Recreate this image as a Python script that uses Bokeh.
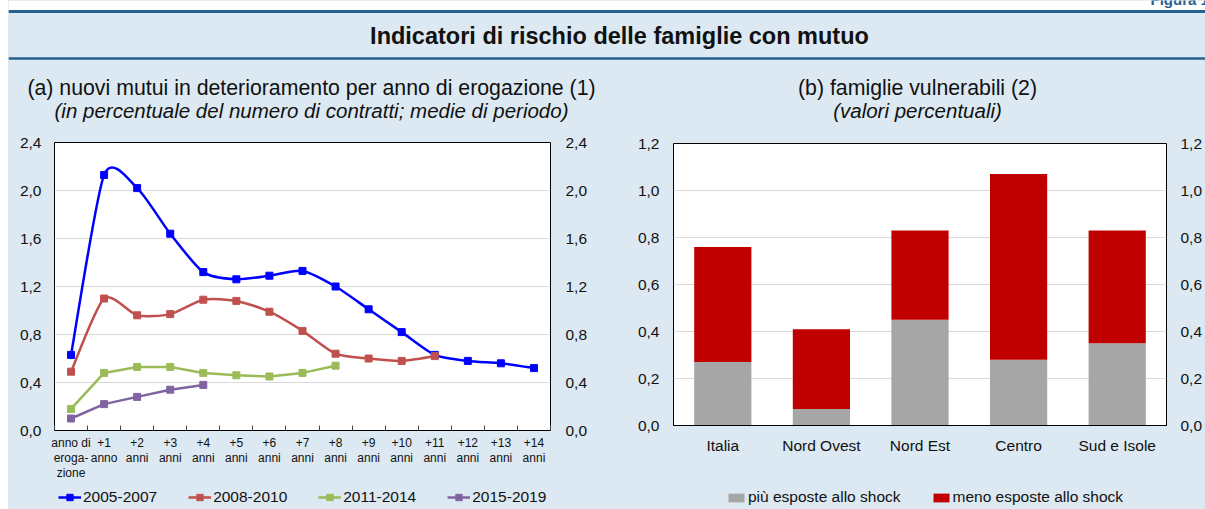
from bokeh.plotting import figure
from bokeh.models import (Range1d, FactorRange, LinearAxis, CategoricalAxis, FixedTicker,
                          CustomJSTickFormatter, Span, Label, Legend, LegendItem,
                          ColumnDataSource, BoxAnnotation, Spacer)
from bokeh.layouts import column, row
from bokeh.embed import file_html
from bokeh.resources import INLINE

# ---------------- data ----------------
FIG_TAG = "Figura 1"
TITLE = "Indicatori di rischio delle famiglie con mutuo"
SUB_A = "(a) nuovi mutui in deterioramento per anno di erogazione (1)"
SUB_A2 = "(in percentuale del numero di contratti; medie di periodo)"
SUB_B = "(b) famiglie vulnerabili (2)"
SUB_B2 = "(valori percentuali)"

YEAR_LABELS = ["anno di\neroga-\nzione", "+1\nanno", "+2\nanni", "+3\nanni", "+4\nanni",
               "+5\nanni", "+6\nanni", "+7\nanni", "+8\nanni", "+9\nanni", "+10\nanni",
               "+11\nanni", "+12\nanni", "+13\nanni", "+14\nanni"]
SERIES_NAMES = ["2005-2007", "2008-2010", "2011-2014", "2015-2019"]
S_2005_2007 = [0.63, 2.13, 2.02, 1.64, 1.32, 1.26, 1.29, 1.33, 1.20, 1.01, 0.82, 0.63, 0.58, 0.56, 0.52]
S_2008_2010 = [0.49, 1.10, 0.96, 0.97, 1.09, 1.08, 0.99, 0.83, 0.64, 0.60, 0.58, 0.62]
S_2011_2014 = [0.18, 0.48, 0.53, 0.53, 0.48, 0.46, 0.45, 0.48, 0.54]
S_2015_2019 = [0.10, 0.22, 0.28, 0.34, 0.38]
Y_TICKS_A = [0.0, 0.4, 0.8, 1.2, 1.6, 2.0, 2.4]

REGIONS = ["Italia", "Nord Ovest", "Nord Est", "Centro", "Sud e Isole"]
PIU_ESPOSTE = [0.27, 0.07, 0.45, 0.28, 0.35]
MENO_ESPOSTE = [0.49, 0.34, 0.38, 0.79, 0.48]
BAR_LEGEND = ["più esposte allo shock", "meno esposte allo shock"]
Y_TICKS_B = [0.0, 0.2, 0.4, 0.6, 0.8, 1.0, 1.2]

# ---------------- style ----------------
BG = "#dce9f2"
DARK = "#25608e"
FONT = "Liberation Sans"
TXT = "#111111"
LINE_COLORS = ["#0000ff", "#c0504d", "#9bbb59", "#8064a2"]
SMOOTH = [True, True, False, False]
BAR_COLORS = ["#a6a6a6", "#c00000"]
TICK_FS = "15.5px"
GRID = "#d9d9d9"
BGSTYLE = {"background-color": BG}

comma_fmt = CustomJSTickFormatter(code="return tick.toFixed(1).replace('.', ',');")


def style_fig(p):
    p.background_fill_color = "white"
    p.border_fill_color = BG
    p.outline_line_color = "black"
    p.outline_line_width = 1


def blank_fig(w, h, xr=(0, 1), yr=(0, 1)):
    f = figure(width=w, height=h, x_range=Range1d(*xr), y_range=Range1d(*yr),
               output_backend="svg", toolbar_location=None, min_border=0,
               x_axis_location=None, y_axis_location=None)
    f.grid.visible = False
    f.outline_line_color = None
    f.background_fill_color = BG
    f.border_fill_color = BG
    return f


def bezier_source(xs, ys, k=0.12):
    n = len(xs)
    d = dict(x0=[], y0=[], x1=[], y1=[], cx0=[], cy0=[], cx1=[], cy1=[])
    for i in range(n - 1):
        xp, yp = (xs[i - 1], ys[i - 1]) if i > 0 else (xs[i], ys[i])
        xn, yn = (xs[i + 2], ys[i + 2]) if i + 2 < n else (xs[i + 1], ys[i + 1])
        d["x0"].append(xs[i]); d["y0"].append(ys[i])
        d["x1"].append(xs[i + 1]); d["y1"].append(ys[i + 1])
        d["cx0"].append(xs[i] + k * (xs[i + 1] - xp)); d["cy0"].append(ys[i] + k * (ys[i + 1] - yp))
        d["cx1"].append(xs[i + 1] - k * (xn - xs[i])); d["cy1"].append(ys[i + 1] - k * (yn - ys[i]))
    return ColumnDataSource(d)


def y_axis(ticks, stand):
    ya = LinearAxis(ticker=FixedTicker(ticks=ticks), formatter=comma_fmt)
    ya.major_tick_line_color = None
    ya.minor_tick_line_color = None
    ya.major_tick_out = 0
    ya.major_tick_in = 0
    ya.axis_line_color = None
    ya.major_label_standoff = stand
    ya.major_label_text_font = FONT
    ya.major_label_text_font_size = TICK_FS
    ya.major_label_text_color = TXT
    return ya


def make_legend(items, x, glyph_w, glyph_h, spacing):
    return Legend(items=items, orientation="horizontal", location=(x, 3),
                  glyph_width=glyph_w, glyph_height=glyph_h, label_standoff=2, spacing=spacing,
                  label_height=0, padding=0, margin=0, border_line_color=None,
                  background_fill_alpha=0, label_text_font=FONT, label_text_font_size=TICK_FS,
                  label_text_color=TXT)


# ---------------- header ----------------
HW, HH = 1197, 128
hdr = blank_fig(HW, HH, (0, HW), (HH, 0))
hdr.add_layout(BoxAnnotation(top=0, bottom=9.5, fill_color="white", fill_alpha=1, line_color=None))
hdr.add_layout(Span(location=11, dimension="width", line_color=DARK, line_width=3))
hdr.add_layout(Span(location=58, dimension="width", line_color=DARK, line_width=2.5))
hdr.add_layout(Label(x=1142, y=7, text=FIG_TAG, text_align="left", text_baseline="bottom",
                     text_font=FONT, text_font_style="bold", text_font_size="15px",
                     text_color=DARK))
hdr.add_layout(Label(x=611, y=35, text=TITLE, text_align="center", text_baseline="middle",
                     text_font=FONT, text_font_style="bold", text_font_size="23.5px",
                     text_color=TXT))
hdr.add_layout(Label(x=303, y=87, text=SUB_A, text_align="center", text_baseline="middle",
                     text_font=FONT, text_font_size="21.3px", text_color=TXT))
hdr.add_layout(Label(x=303, y=110, text=SUB_A2, text_align="center", text_baseline="middle",
                     text_font=FONT, text_font_style="italic", text_font_size="20.5px",
                     text_color=TXT))
hdr.add_layout(Label(x=909, y=87, text=SUB_B, text_align="center", text_baseline="middle",
                     text_font=FONT, text_font_size="21.3px", text_color=TXT))
hdr.add_layout(Label(x=909, y=110, text=SUB_B2, text_align="center", text_baseline="middle",
                     text_font=FONT, text_font_style="italic", text_font_size="20.5px",
                     text_color=TXT))

BODY = 509 - HH
CH_A = 14 + 288 + 59      # panel (a) figure height
CH_B = 15 + 282 + 62      # panel (b) figure height

# ---------------- panel (a) ----------------
pa = figure(width=592, height=CH_A, x_range=Range1d(-0.5, len(YEAR_LABELS) - 0.5),
            y_range=Range1d(0, 2.4), output_backend="svg", toolbar_location=None,
            x_axis_location=None, y_axis_location=None,
            min_border_left=46, min_border_right=50, min_border_top=14, min_border_bottom=59)
style_fig(pa)

xa = LinearAxis(ticker=FixedTicker(ticks=list(range(len(YEAR_LABELS))),
                                   minor_ticks=[i - 0.5 for i in range(len(YEAR_LABELS) + 1)]),
                major_label_overrides={i: lab for i, lab in enumerate(YEAR_LABELS)})
xa.major_tick_line_color = None
xa.major_tick_out = 0
xa.major_tick_in = 0
xa.minor_tick_in = 5
xa.minor_tick_out = 0
xa.minor_tick_line_color = "#444444"
xa.axis_line_color = "black"
xa.major_label_standoff = 5
xa.major_label_text_font = FONT
xa.major_label_text_font_size = "12px"
xa.major_label_text_line_height = 1.1
xa.major_label_text_color = TXT
pa.add_layout(xa, "below")

pa.add_layout(y_axis(Y_TICKS_A, 13), "left")
pa.add_layout(y_axis(Y_TICKS_A, 15), "right")

pa.ygrid.ticker = FixedTicker(ticks=Y_TICKS_A)
pa.ygrid.grid_line_color = GRID
pa.xgrid.grid_line_color = None

# legend strip for panel (a): legend-key glyphs sit outside the strip's visible range
la = blank_fig(592, BODY - CH_A)
items_a = []
for name, vals, col, sm in zip(SERIES_NAMES, [S_2005_2007, S_2008_2010, S_2011_2014, S_2015_2019],
                               LINE_COLORS, SMOOTH):
    xs = list(range(len(vals)))
    if sm:
        pa.bezier(x0="x0", y0="y0", x1="x1", y1="y1", cx0="cx0", cy0="cy0", cx1="cx1",
                  cy1="cy1", source=bezier_source(xs, vals), line_color=col,
                  line_width=2.5, line_cap="round")
    else:
        pa.line(xs, vals, line_color=col, line_width=2.5, line_join="round")
    pa.scatter(xs, vals, marker="square", size=7, fill_color=col, line_color=col)
    kl = la.line(x=[-5, -4], y=[-5, -5], line_color=col, line_width=2.5)
    ks = la.scatter(x=[-5], y=[-5], marker="square", size=7, fill_color=col, line_color=col)
    items_a.append(LegendItem(label=name, renderers=[kl, ks]))
la.add_layout(make_legend(items_a, 4, 23, 16, 31), "center")

# ---------------- panel (b) ----------------
pb = figure(width=605, height=CH_B, x_range=FactorRange(*REGIONS), y_range=Range1d(0, 1.2),
            output_backend="svg", toolbar_location=None,
            x_axis_location=None, y_axis_location=None,
            min_border_left=73, min_border_right=36, min_border_top=15, min_border_bottom=62)
style_fig(pb)

src_b = ColumnDataSource(dict(region=REGIONS, piu=PIU_ESPOSTE, meno=MENO_ESPOSTE))
pb.vbar_stack(["piu", "meno"], x="region", width=0.58, color=BAR_COLORS, line_color=None,
              source=src_b)

xb = CategoricalAxis()
xb.major_tick_line_color = None
xb.major_tick_out = 0
xb.major_tick_in = 0
xb.minor_tick_line_color = None
xb.axis_line_color = "black"
xb.major_label_standoff = 11
xb.major_label_text_font = FONT
xb.major_label_text_font_size = TICK_FS
xb.major_label_text_color = TXT
pb.add_layout(xb, "below")

pb.add_layout(y_axis(Y_TICKS_B, 14), "left")
pb.add_layout(y_axis(Y_TICKS_B, 14), "right")

pb.ygrid.ticker = FixedTicker(ticks=Y_TICKS_B)
pb.ygrid.grid_line_color = GRID
pb.xgrid.grid_line_color = None

lb = blank_fig(605, BODY - CH_B)
items_b = []
for name, col in zip(BAR_LEGEND, BAR_COLORS):
    kr = lb.vbar(x=[-5], top=[-5], bottom=[-6], width=1, fill_color=col, line_color=None)
    items_b.append(LegendItem(label=name, renderers=[kr]))
lb.add_layout(make_legend(items_b, 53, 20, 11, 30), "center")

layout = row(Spacer(width=8, height=509),
             column(hdr,
                    row(column(pa, la, spacing=0, styles=BGSTYLE),
                        column(pb, lb, spacing=0, styles=BGSTYLE),
                        spacing=0, styles=BGSTYLE),
                    spacing=0, styles=BGSTYLE),
             spacing=0)

open("out.html", "w").write(file_html(layout, INLINE))
